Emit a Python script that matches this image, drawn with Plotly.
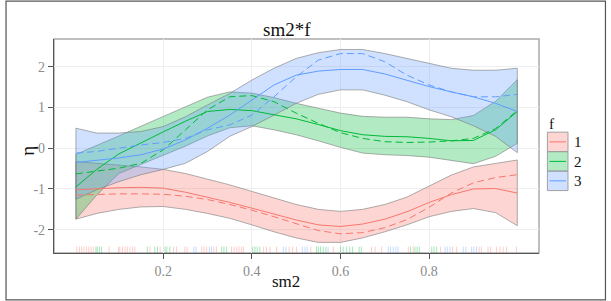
import plotly.graph_objects as go

# ---------------- data ----------------
sm2 = [0.003, 0.05, 0.1, 0.15, 0.2, 0.25, 0.3, 0.35, 0.4, 0.45, 0.5,
       0.55, 0.6, 0.65, 0.7, 0.75, 0.8, 0.85, 0.9, 0.95, 0.999]

f1_fit   = [-1.02, -0.99, -0.97, -0.96, -0.98, -1.08, -1.20, -1.33, -1.47, -1.62, -1.76,
            -1.88, -1.92, -1.86, -1.74, -1.56, -1.33, -1.14, -1.00, -0.99, -1.10]
f1_true  = [-1.15, -1.13, -1.12, -1.12, -1.13, -1.18, -1.26, -1.38, -1.52, -1.68, -1.85,
            -2.02, -2.10, -2.07, -1.95, -1.75, -1.45, -1.10, -0.85, -0.72, -0.65]
f1_upper = [-0.33, -0.37, -0.42, -0.46, -0.52, -0.62, -0.76, -0.90, -1.06, -1.22, -1.38,
            -1.50, -1.55, -1.50, -1.38, -1.20, -0.92, -0.66, -0.46, -0.37, -0.29]
f1_lower = [-1.74, -1.60, -1.50, -1.44, -1.43, -1.50, -1.60, -1.72, -1.88, -2.05, -2.20,
            -2.31, -2.31, -2.20, -2.05, -1.88, -1.68, -1.55, -1.48, -1.58, -1.90]

f2_fit   = [-0.95, -0.52, -0.14, 0.14, 0.40, 0.66, 0.90, 0.95, 0.92, 0.82, 0.72,
            0.58, 0.43, 0.33, 0.29, 0.28, 0.24, 0.18, 0.19, 0.45, 0.90]
f2_true  = [-0.63, -0.57, -0.49, -0.37, -0.04, 0.45, 0.94, 1.26, 1.29, 1.14, 0.86,
            0.61, 0.38, 0.24, 0.16, 0.14, 0.15, 0.18, 0.24, 0.48, 0.92]
f2_upper = [-0.15, 0.06, 0.30, 0.54, 0.78, 1.02, 1.25, 1.38, 1.35, 1.24, 1.10,
            0.98, 0.86, 0.78, 0.76, 0.76, 0.72, 0.70, 0.80, 1.15, 1.68]
f2_lower = [-1.74, -1.15, -0.62, -0.40, -0.18, 0.05, 0.30, 0.50, 0.55, 0.45, 0.33,
            0.18, 0.02, -0.12, -0.16, -0.18, -0.22, -0.30, -0.38, -0.20, 0.12]

f3_fit   = [-0.35, -0.30, -0.24, -0.16, -0.02, 0.20, 0.49, 0.81, 1.18, 1.55, 1.79,
            1.89, 1.93, 1.93, 1.82, 1.67, 1.51, 1.38, 1.26, 1.10, 0.90]
f3_true  = [-0.12, -0.08, 0.00, 0.08, 0.14, 0.24, 0.45, 0.57, 0.81, 1.26, 1.75,
            2.16, 2.32, 2.32, 2.12, 1.79, 1.55, 1.38, 1.26, 1.26, 1.32]
f3_upper = [0.49, 0.37, 0.37, 0.41, 0.53, 0.77, 1.06, 1.34, 1.67, 1.96, 2.20,
            2.34, 2.42, 2.42, 2.32, 2.20, 2.08, 1.96, 1.91, 1.91, 1.96]
f3_lower = [-1.25, -1.02, -0.82, -0.65, -0.52, -0.37, -0.08, 0.29, 0.53, 0.81, 1.10,
            1.32, 1.43, 1.43, 1.30, 1.14, 0.94, 0.77, 0.55, 0.29, -0.11]

rug_f1 = [0.005, 0.011, 0.016, 0.021, 0.027, 0.032, 0.037, 0.042, 0.078, 0.099, 0.102,
          0.108, 0.114, 0.119, 0.125, 0.131, 0.136, 0.170, 0.193, 0.223, 0.230, 0.249,
          0.254, 0.287, 0.292, 0.298, 0.314, 0.320, 0.354, 0.360, 0.366, 0.371, 0.377,
          0.381, 0.426, 0.433, 0.441, 0.456, 0.484, 0.492, 0.501, 0.533, 0.584, 0.670,
          0.678, 0.693, 0.753, 0.764, 0.826, 0.853, 0.862, 0.913, 0.918, 0.933, 0.939,
          0.952, 0.960, 0.967, 0.975, 0.997]
rug_f2 = [0.048, 0.051, 0.056, 0.061, 0.164, 0.181, 0.187, 0.204, 0.208, 0.215, 0.332,
          0.337, 0.343, 0.402, 0.407, 0.412, 0.418, 0.546, 0.550, 0.555, 0.561, 0.567,
          0.600, 0.606, 0.614, 0.621, 0.627, 0.642, 0.647, 0.758, 0.768, 0.773, 0.778,
          0.806, 0.811, 0.817]
rug_f3 = [0.269, 0.274, 0.304, 0.309, 0.471, 0.477, 0.514, 0.520, 0.525, 0.572, 0.708,
          0.713, 0.719, 0.725, 0.730, 0.836, 0.841, 0.847, 0.877, 0.883, 0.896, 0.901,
          0.907]

x_ticks = [0.2, 0.4, 0.6, 0.8]
y_ticks = [-2, -1, 0, 1, 2]
levels = ["1", "2", "3"]

# ---------------- styling ----------------
W, H = 611, 301
PL, PR, PT, PB = 54, 539.3, 39, 253.3      # panel in pixels
pw, ph = PR - PL, PB - PT

def px(xp):
    return (xp - PL) / pw

def py(yp):
    return (PB - yp) / ph

cols = ["#F8766D", "#00BA38", "#619CFF"]
fills = ["rgba(248,118,109,0.3)", "rgba(0,186,56,0.3)", "rgba(97,156,255,0.3)"]
rugc = ["rgba(248,118,109,0.35)", "rgba(0,186,56,0.35)", "rgba(97,156,255,0.35)"]
SERIF = "Liberation Serif"
DASH = "7px,4px"

groups = [
    (f1_fit, f1_true, f1_upper, f1_lower, rug_f1),
    (f2_fit, f2_true, f2_upper, f2_lower, rug_f2),
    (f3_fit, f3_true, f3_upper, f3_lower, rug_f3),
]

fig = go.Figure()
for i, (fit, tru, up, lo, rug) in enumerate(groups):
    fig.add_trace(go.Scatter(
        x=sm2 + sm2[::-1] + [sm2[0]], y=up + lo[::-1] + [up[0]],
        mode="lines", fill="toself", fillcolor=fills[i],
        line=dict(color="rgba(120,120,120,0.75)", width=0.8),
        hoverinfo="skip", showlegend=False))
for i, (fit, tru, up, lo, rug) in enumerate(groups):
    fig.add_trace(go.Scatter(x=sm2, y=tru, mode="lines",
                             line=dict(color=cols[i], width=1, dash=DASH),
                             hoverinfo="skip", showlegend=False))
    fig.add_trace(go.Scatter(x=sm2, y=fit, mode="lines",
                             line=dict(color=cols[i], width=1),
                             hoverinfo="skip", showlegend=False))

shapes = []
# rugs
for i, (fit, tru, up, lo, rug) in enumerate(groups):
    for xv in rug:
        shapes.append(dict(type="line", xref="x", yref="y domain",
                           x0=xv, x1=xv, y0=0, y1=0.03,
                           line=dict(color=rugc[i], width=1), layer="above"))
# panel border (top / right grey)
shapes.append(dict(type="rect", xref="paper", yref="paper", x0=0, x1=1, y0=0, y1=1,
                   line=dict(color="#ababab", width=1.5), layer="below"))
# outer frame
shapes.append(dict(type="rect", xref="paper", yref="paper",
                   x0=px(6), x1=px(605.8), y0=py(300.3), y1=py(1),
                   line=dict(color="#555555", width=1.2)))

def ann(text, xp, yp, size, xanchor="center", angle=0):
    return dict(text=text, x=px(xp), y=py(yp), xref="paper", yref="paper",
                xanchor=xanchor, yanchor="middle", textangle=angle,
                showarrow=False, font=dict(family=SERIF, size=size, color="#111"))

annotations = [
    ann("sm2*f", 287, 29, 19),
    ann("sm2", 286, 282, 17),
    ann("η", 28, 151, 19, angle=-90),
    ann("f", 547.5, 124, 15, xanchor="left"),
]

# legend keys (manual, ggplot style)
kx0, kx1 = 547.7, 568.3
ktop, kh = 132.3, 19.5
for i, lab in enumerate(levels):
    y0 = ktop + i * kh
    y1 = y0 + kh
    shapes.append(dict(type="rect", xref="paper", yref="paper",
                       x0=px(kx0), x1=px(kx1), y0=py(y1), y1=py(y0),
                       fillcolor=fills[i], line=dict(color="#a0a0a0", width=1)))
    ym = (y0 + y1) / 2
    shapes.append(dict(type="line", xref="paper", yref="paper",
                       x0=px(kx0 + 2), x1=px(kx1 - 2), y0=py(ym), y1=py(ym),
                       line=dict(color=cols[i], width=1)))
    annotations.append(ann(lab, 572.5, ym + 0.5, 15, xanchor="left"))

fig.update_layout(
    width=W, height=H,
    margin=dict(l=PL, r=W - PR, t=PT, b=H - PB, pad=0),
    paper_bgcolor="white", plot_bgcolor="white",
    showlegend=False,
    shapes=shapes, annotations=annotations,
    font=dict(family=SERIF),
    xaxis=dict(range=[-0.0465, 1.048], tickvals=x_ticks,
               ticktext=[f"{v:.1f}" for v in x_ticks],
               showgrid=True, gridcolor="#eeeeee", gridwidth=1, zeroline=False,
               showline=True, linecolor="#555555", linewidth=1.3,
               ticks="outside", ticklen=5, tickcolor="#555555", tickwidth=1,
               tickfont=dict(family=SERIF, size=14, color="#8c8c8c")),
    yaxis=dict(range=[-2.57, 2.677], tickvals=y_ticks,
               ticktext=[str(v) for v in y_ticks],
               showgrid=True, gridcolor="#eeeeee", gridwidth=1, zeroline=False,
               showline=True, linecolor="#555555", linewidth=1.3,
               ticks="outside", ticklen=5, tickcolor="#555555", tickwidth=1,
               tickfont=dict(family=SERIF, size=14, color="#8c8c8c")),
)

fig.write_html("out.html", config={"displayModeBar": False},
               post_script="document.body.style.margin='0';")
